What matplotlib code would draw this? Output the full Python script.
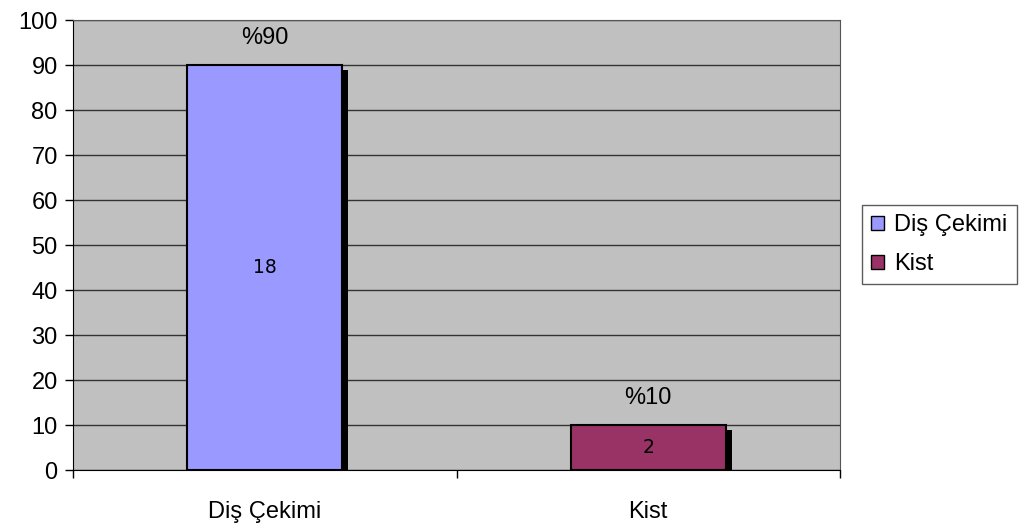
import matplotlib.pyplot as plt
from matplotlib.patches import Patch

plt.rcParams['font.family'] = ['Liberation Sans', 'DejaVu Sans']

categories = ['Diş Çekimi', 'Kist']
percent = [90, 10]
counts = [18, 2]
colors = ['#9999FF', '#993366']

fig = plt.figure(figsize=(10.34, 5.23), dpi=100)
ax = fig.add_axes([0.0706, 0.1013, 0.7418, 0.8604])
ax.set_facecolor('#C0C0C0')

x = list(range(len(categories)))
width = 0.404

# drop shadow on the right of each bar
for xi, v in zip(x, percent):
    ax.bar(xi + width / 2 + 0.008, v - 1.1, width=0.016, color='black', zorder=2)

ax.bar(x, percent, width=width, color=colors, edgecolor='black', linewidth=1.5, zorder=3)

for xi, v, c in zip(x, percent, counts):
    ax.text(xi, v + 6, '%' + str(v), ha='center', va='center', fontsize=17, zorder=4)
    ax.text(xi, v / 2, str(c), ha='center', va='center', fontsize=13.5,
            family=['DejaVu Sans'], zorder=4)

ax.set_xlim(-0.5, 1.5)
ax.set_ylim(0, 100)
ax.set_yticks(range(0, 101, 10))
ax.yaxis.grid(True, color='#333333', linewidth=1)
ax.set_axisbelow(True)
ax.tick_params(axis='y', labelsize=17, length=6, width=1, direction='out', pad=5)

# category labels centred, ticks on the boundaries
ax.set_xticks([-0.5, 0.5, 1.5])
ax.set_xticklabels([])
ax.set_xticks(x, minor=True)
ax.set_xticklabels(categories, minor=True, fontsize=17)
ax.tick_params(axis='x', which='major', length=6, width=1, direction='out')
ax.tick_params(axis='x', which='minor', length=0, pad=22)

for side in ['top', 'right']:
    ax.spines[side].set_color('#555555')
for side in ['left', 'bottom']:
    ax.spines[side].set_color('black')

handles = [Patch(facecolor=c, edgecolor='black', label=l) for c, l in zip(colors, categories)]
leg = fig.legend(handles=handles, loc='upper left', bbox_to_anchor=(0.8337, 0.608),
                 fontsize=17, frameon=True, fancybox=False, edgecolor='#333333',
                 handlelength=0.55, handleheight=0.55, handletextpad=0.4,
                 borderpad=0.4, labelspacing=0.7, borderaxespad=0)
leg.get_frame().set_linewidth(1)

fig.savefig('out.png', dpi=100)
